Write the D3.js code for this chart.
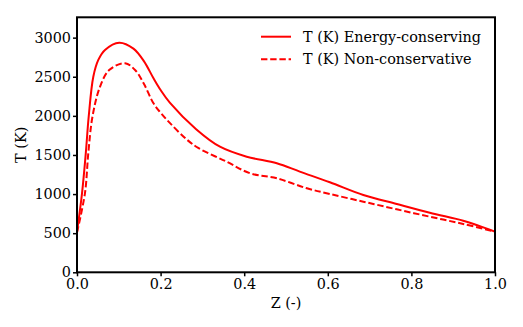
<!DOCTYPE html>
<html>
<head>
<meta charset="utf-8">
<script src="https://d3js.org/d3.v7.min.js"></script>
<style>
  body { margin: 0; background: #fff; }
  text { font-family: "DejaVu Serif", serif; fill: #000; }
</style>
</head>
<body>
<script>
// values
var zSolid = [0, 0.012, 0.021, 0.028, 0.039, 0.051, 0.067, 0.101, 0.135, 0.16, 0.183, 0.2, 0.222, 0.285, 0.342, 0.406, 0.478, 0.533, 0.605, 0.685, 0.765, 0.844, 0.924, 0.956, 1.0];
var tSolid = [515, 1010, 1520, 1990, 2500, 2715, 2843, 2936, 2860, 2700, 2480, 2330, 2170, 1830, 1606, 1478, 1394, 1287, 1151, 988, 873, 762, 660, 605, 520];
var zDashed = [0, 0.019, 0.027, 0.037, 0.055, 0.077, 0.115, 0.14, 0.16, 0.183, 0.2, 0.222, 0.262, 0.29, 0.358, 0.414, 0.478, 0.55, 0.605, 0.685, 0.765, 0.844, 0.924, 1.0];
var tDashed = [510, 1010, 1520, 1990, 2372, 2585, 2673, 2580, 2410, 2160, 2040, 1910, 1700, 1590, 1414, 1266, 1202, 1074, 1001, 903, 805, 711, 618, 520];
var xTicks = [0, 0.2, 0.4, 0.6, 0.8, 1.0];
var yTicks = [0, 500, 1000, 1500, 2000, 2500, 3000];
var seriesNames = ["T (K) Energy-conserving", "T (K) Non-conservative"];

var W = 523, H = 327;
var mLeft = 77, mRight = 495, mTop = 17.3, mBottom = 272.3;
var fs = "14.4px";

var svg = d3.select("body").append("svg")
  .attr("width", W).attr("height", H);

var x = d3.scaleLinear().domain([0, 1]).range([mLeft, mRight]);
var y = d3.scaleLinear().domain([0, 3260]).range([mBottom, mTop]);

var series = [
  { name: seriesNames[0], pts: d3.zip(zSolid, tSolid), dash: null },
  { name: seriesNames[1], pts: d3.zip(zDashed, tDashed), dash: "6.4,2.8" }
];

var line = d3.line()
  .x(function (d) { return x(d[0]); })
  .y(function (d) { return y(d[1]); })
  .curve(d3.curveCatmullRom.alpha(0.5));

svg.selectAll("path.series")
  .data(series)
  .enter().append("path")
    .attr("class", "series")
    .attr("d", function (d) { return line(d.pts); })
    .attr("fill", "none")
    .attr("stroke", "#ff0000")
    .attr("stroke-width", 2)
    .attr("stroke-dasharray", function (d) { return d.dash; });

// axes
var xAxis = svg.append("g")
  .attr("transform", "translate(0," + mBottom + ")")
  .call(d3.axisBottom(x).tickValues(xTicks).tickFormat(d3.format(".1f")).tickSizeOuter(0).tickSize(4).tickPadding(2));
var yAxis = svg.append("g")
  .attr("transform", "translate(" + mLeft + ",0)")
  .call(d3.axisLeft(y).tickValues(yTicks).tickFormat(d3.format("d")).tickSizeOuter(0).tickSize(4).tickPadding(2));

[xAxis, yAxis].forEach(function (g) {
  g.select(".domain").remove();
  g.selectAll("line").attr("stroke", "#000").attr("stroke-width", 1.5);
  g.selectAll("text").style("font-family", "DejaVu Serif, serif").style("font-size", fs).attr("fill", "#000");
});

// frame
svg.append("rect")
  .attr("x", mLeft).attr("y", mTop)
  .attr("width", mRight - mLeft).attr("height", mBottom - mTop)
  .attr("fill", "none").attr("stroke", "#000").attr("stroke-width", 2);

// axis titles
svg.append("text")
  .attr("x", (mLeft + mRight) / 2).attr("y", 308)
  .attr("text-anchor", "middle")
  .style("font-size", fs)
  .text("Z (-)");
svg.append("text")
  .attr("transform", "translate(26," + ((mTop + mBottom) / 2) + ") rotate(-90)")
  .attr("text-anchor", "middle")
  .style("font-size", fs)
  .text("T (K)");

// legend
var leg = svg.selectAll("g.leg")
  .data(series)
  .enter().append("g")
    .attr("class", "leg")
    .attr("transform", function (d, i) { return "translate(261," + (36.7 + i * 22.6) + ")"; });
leg.append("line")
  .attr("x1", 0).attr("x2", 30)
  .attr("stroke", "#ff0000").attr("stroke-width", 2)
  .attr("stroke-dasharray", function (d) { return d.dash; });
leg.append("text")
  .attr("x", 42).attr("dy", "0.35em")
  .style("font-size", fs)
  .text(function (d) { return d.name; });
</script>
</body>
</html>
